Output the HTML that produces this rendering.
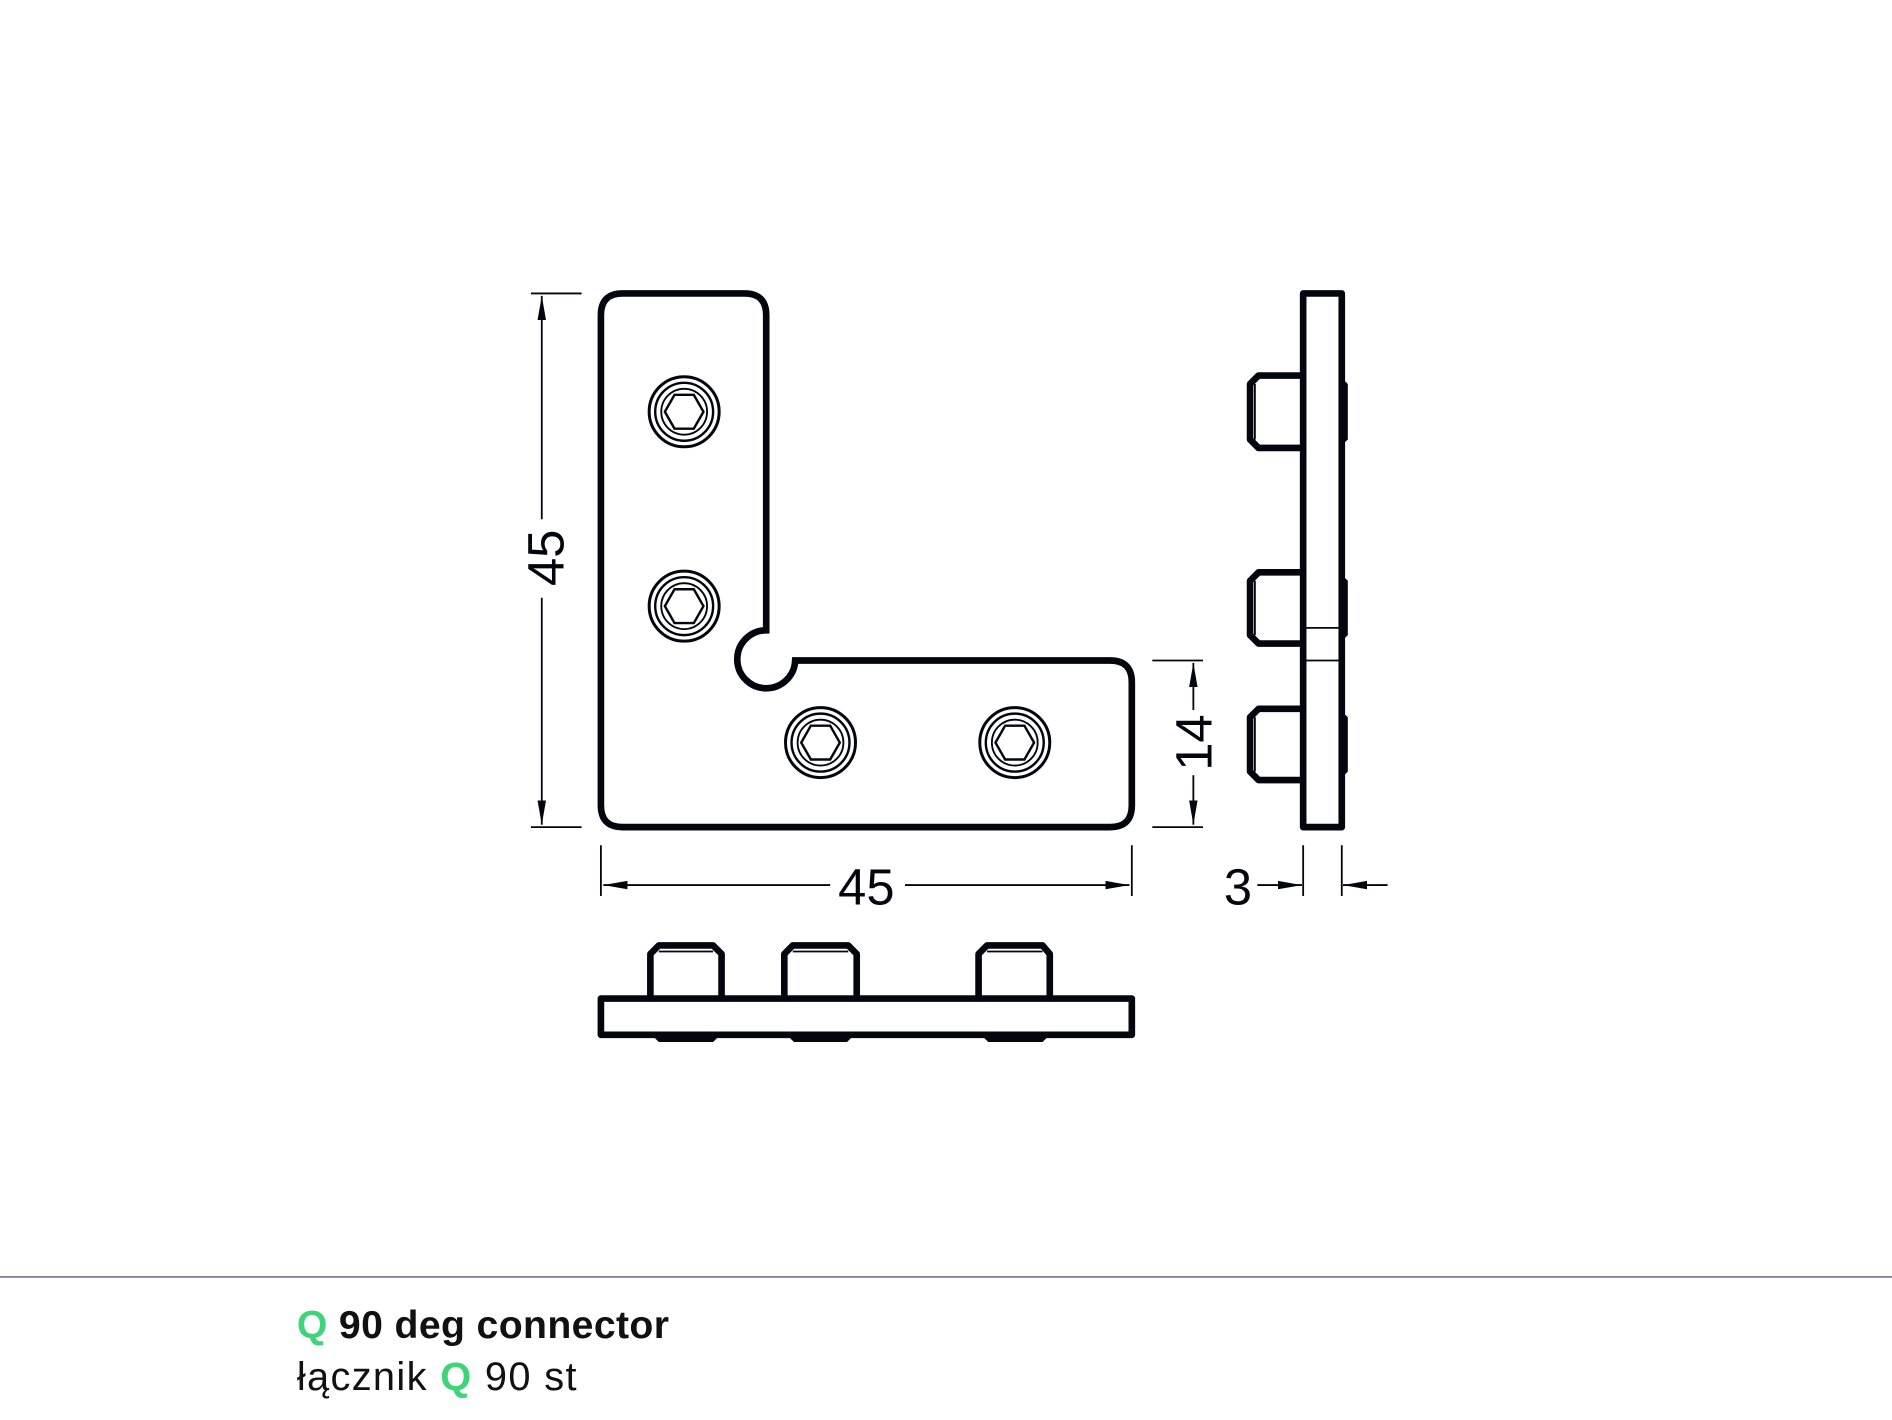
<!DOCTYPE html>
<html><head><meta charset="utf-8"><style>
html,body{margin:0;padding:0;background:#fff;width:1892px;height:1420px;overflow:hidden}
svg{display:block}
</style></head><body>
<svg width="1892" height="1420" viewBox="0 0 1568 1176" preserveAspectRatio="none" xmlns="http://www.w3.org/2000/svg">
<defs>
<marker id="ar" viewBox="0 0 20 10" refX="20" refY="5" markerWidth="20" markerHeight="10" markerUnits="userSpaceOnUse" orient="auto-start-reverse">
<path d="M0,1.5 L20,5 L0,8.5 Z" fill="#05050f"/>
</marker>
<g id="screw" fill="none" stroke="#05050f">
<circle r="29" stroke-width="2.5"/>
<circle r="24" stroke-width="2"/>
<circle r="19" stroke-width="1.5"/>
<polygon points="-16,0 -8,-14 8,-14 16,0 8,14 -8,14" stroke-width="2"/>
</g>
</defs>
<rect width="1568" height="1176" fill="#fff"/>
<path d="M516,243 H617 Q635,243 635,261 V522 A24,24 0 1 0 659,547 H920 Q938,547 938,565 V667 Q938,685 920,685 H516 Q498,685 498,667 V261 Q498,243 516,243 Z" fill="none" stroke="#05050f" stroke-width="5.5"/>
<use href="#screw" x="567" y="341"/>
<use href="#screw" x="567" y="502"/>
<use href="#screw" x="680" y="615"/>
<use href="#screw" x="841" y="615"/>
<g stroke="#05050f" stroke-width="1.5" fill="none">
<line x1="440" y1="243" x2="482" y2="243"/>
<line x1="440" y1="685" x2="482" y2="685"/>
<line x1="449" y1="245" x2="449" y2="430" marker-start="url(#ar)"/>
<line x1="449" y1="495" x2="449" y2="683" marker-end="url(#ar)"/>
<line x1="498" y1="700" x2="498" y2="742"/>
<line x1="938" y1="700" x2="938" y2="742"/>
<line x1="500" y1="733" x2="688" y2="733" marker-start="url(#ar)"/>
<line x1="750" y1="733" x2="936" y2="733" marker-end="url(#ar)"/>
<line x1="955" y1="547" x2="997" y2="547"/>
<line x1="955" y1="685" x2="997" y2="685"/>
<line x1="989" y1="549" x2="989" y2="588" marker-start="url(#ar)"/>
<line x1="989" y1="642" x2="989" y2="683" marker-end="url(#ar)"/>
<line x1="1080" y1="700" x2="1080" y2="742"/>
<line x1="1112" y1="700" x2="1112" y2="742"/>
<line x1="1042" y1="733" x2="1079" y2="733" marker-end="url(#ar)"/>
<line x1="1150" y1="733" x2="1113" y2="733" marker-end="url(#ar)"/>
</g>
<g font-family="'Liberation Sans',sans-serif" font-size="42" fill="#05050f" text-anchor="middle">
<text x="718" y="749">45</text>
<text x="1026" y="749">3</text>
<text transform="translate(467,462) rotate(-90)">45</text>
<text transform="translate(1004,615) rotate(-90)">14</text>
</g>
<g fill="none" stroke="#05050f" stroke-width="5.5" stroke-linejoin="round">
<rect x="1080" y="243" width="32" height="442"/>
<path d="M1080,311 H1043 L1036,318 V364 L1043,371 H1080"/>
<path d="M1080,474 H1043 L1036,481 V526 L1043,533 H1080"/>
<path d="M1080,587 H1043 L1036,594 V639 L1043,646 H1080"/>
</g>
<g stroke="#05050f" stroke-width="1.5">
<line x1="1040" y1="318" x2="1040" y2="364"/>
<line x1="1040" y1="481" x2="1040" y2="526"/>
<line x1="1040" y1="594" x2="1040" y2="639"/>
<line x1="1082" y1="520" x2="1110" y2="520"/>
<line x1="1082" y1="547" x2="1110" y2="547"/>
</g>
<g fill="#05050f">
<path d="M1112,313 L1117,318 V364 L1112,369 Z"/>
<path d="M1112,476 L1117,481 V526 L1112,531 Z"/>
<path d="M1112,589 L1117,594 V639 L1112,644 Z"/>
</g>
<g fill="none" stroke="#05050f" stroke-width="5.5" stroke-linejoin="round">
<rect x="498" y="827" width="440" height="30"/>
<path d="M539,827 V790 L546,783 H591 L598,790 V827"/>
<path d="M650,827 V790 L657,783 H703 L710,790 V827"/>
<path d="M811,827 V790 L818,783 H864 L870,790 V827"/>
</g>
<g stroke="#05050f" stroke-width="1.5">
<line x1="546" y1="788" x2="591" y2="788"/>
<line x1="657" y1="788" x2="703" y2="788"/>
<line x1="818" y1="788" x2="864" y2="788"/>
</g>
<g fill="#05050f">
<path d="M540,857 L546,863 H591 L597,857 Z"/>
<path d="M652,857 L658,863 H702 L708,857 Z"/>
<path d="M813,857 L819,863 H864 L870,857 Z"/>
</g>
<line x1="0" y1="1057.5" x2="1568" y2="1057.5" stroke="#5a5a82" stroke-width="1.2"/>
<g font-family="'Liberation Sans',sans-serif" fill="#111">
<text x="246" y="1108" font-weight="bold" font-size="32.5" letter-spacing="0.3"><tspan fill="#3dd47a">Q</tspan> 90 deg connector</text>
<text x="246" y="1151" font-size="33" letter-spacing="1.1">łącznik <tspan fill="#3dd47a" font-weight="bold">Q</tspan> 90 st</text>
</g>
</svg>
</body></html>
